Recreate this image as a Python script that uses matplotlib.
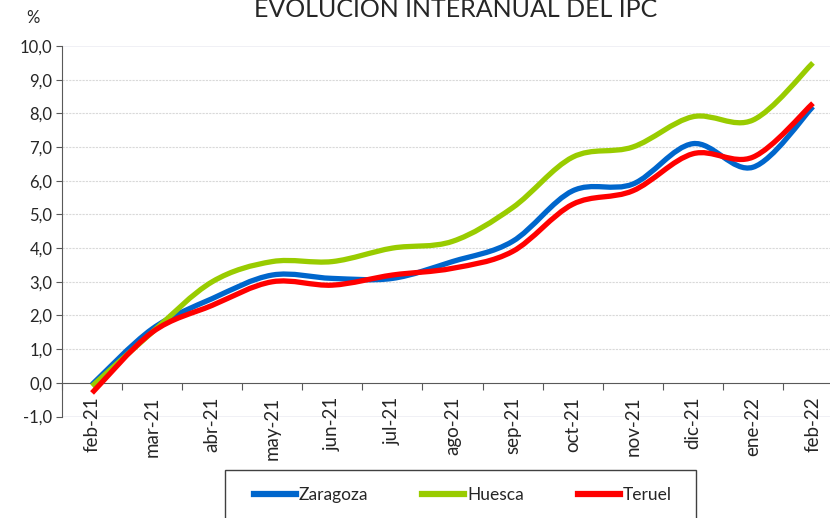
import matplotlib
matplotlib.use("Agg")
import matplotlib.pyplot as plt
from matplotlib.path import Path
from matplotlib.patches import PathPatch, Rectangle
from matplotlib.lines import Line2D
import numpy as np

plt.rcParams['font.family'] = ['Lato', 'DejaVu Sans']

months = ["feb-21", "mar-21", "abr-21", "may-21", "jun-21", "jul-21", "ago-21",
          "sep-21", "oct-21", "nov-21", "dic-21", "ene-22", "feb-22"]
zaragoza = [-0.05, 1.6, 2.5, 3.2, 3.1, 3.1, 3.6, 4.2, 5.7, 5.9, 7.1, 6.4, 8.2]
huesca = [-0.1, 1.5, 3.0, 3.6, 3.6, 4.0, 4.2, 5.2, 6.7, 7.0, 7.9, 7.8, 9.5]
teruel = [-0.3, 1.5, 2.3, 3.0, 2.9, 3.2, 3.4, 3.9, 5.3, 5.7, 6.8, 6.7, 8.3]
yticks = [-1, 0, 1, 2, 3, 4, 5, 6, 7, 8, 9, 10]

series = [("Zaragoza", zaragoza, "#0066CC"),
          ("Huesca", huesca, "#99CC00"),
          ("Teruel", teruel, "#FF0000")]

W, H = 830, 518
fig = plt.figure(figsize=(W / 100, H / 100), dpi=100)
ax = fig.add_axes([62 / W, (H - 416.5) / H, (843 - 62) / W, (416.5 - 46) / H])
ax.set_xlim(-0.5, len(months) - 0.5)
ax.set_ylim(-1, 10)


def smooth_path(xs, ys):
    pts = np.column_stack([xs, ys]).astype(float)
    n = len(pts)
    verts = [pts[0]]
    codes = [Path.MOVETO]
    for i in range(n - 1):
        p0 = pts[i - 1] if i > 0 else pts[i]
        p1 = pts[i]
        p2 = pts[i + 1]
        p3 = pts[i + 2] if i + 2 < n else pts[i + 1]
        c1 = p1 + (p2 - p0) / 6.0
        c2 = p2 - (p3 - p1) / 6.0
        verts += [c1, c2, p2]
        codes += [Path.CURVE4] * 3
    return Path(verts, codes)


x = np.arange(len(months))
for name, vals, col in series:
    patch = PathPatch(smooth_path(x, vals), facecolor="none", edgecolor=col,
                      lw=3.8, capstyle="butt", joinstyle="round", zorder=3)
    ax.add_patch(patch)

# grid
for yv in yticks:
    if yv in (-1, 10):
        ax.axhline(yv, color="#eeeef4", lw=1.2, zorder=0)
    elif yv != 0:
        ax.axhline(yv, color="#d9d9d9", lw=0.8, ls=(0, (2, 1)), zorder=0)

for s in ["top", "right"]:
    ax.spines[s].set_visible(False)
ax.spines["left"].set_color("#595959")
ax.spines["bottom"].set_color("#595959")
ax.spines["bottom"].set_position(("data", 0))
ax.spines["bottom"].set_zorder(2)

ax.set_yticks(yticks)
ax.set_yticklabels([f"{v:.1f}".replace(".", ",") for v in yticks])
ax.tick_params(axis="y", direction="out", length=4, color="#595959",
               labelsize=12, labelcolor="#262626", pad=3)

ax.set_xticks(np.arange(-0.5, len(months), 1.0))
ax.set_xticklabels([])
ax.set_xticks(x, minor=True)
ax.set_xticklabels(months, minor=True, rotation=90)
ax.tick_params(axis="x", which="major", direction="out", length=5, color="#595959")
ax.tick_params(axis="x", which="minor", length=0, labelsize=13.5,
               labelcolor="#262626", pad=10)

fig.text(33 / W, (H - 18) / H, "%", ha="center", va="center", fontsize=12,
         color="#262626")
fig.text(456 / W, (H - 9) / H, "EVOLUCIÓN INTERANUAL DEL IPC", ha="center",
         va="center", fontsize=18, color="#262626")

# legend box
fig.patches.append(Rectangle((225 / W, -20 / H), (696 - 225) / W, (H - 470 + 20) / H,
                             transform=fig.transFigure, facecolor="none",
                             edgecolor="#404040", lw=1.0))
handles = [Line2D([], [], color=c, lw=4.5) for _, _, c in series]
fig.legend(handles, [n for n, _, _ in series], loc="center",
           bbox_to_anchor=(463 / W, (H - 495) / H), ncol=3, frameon=False,
           fontsize=12.5, handlelength=2.4, handletextpad=0.2,
           columnspacing=3.1, labelcolor="#262626")

fig.savefig("out.png", dpi=100)
